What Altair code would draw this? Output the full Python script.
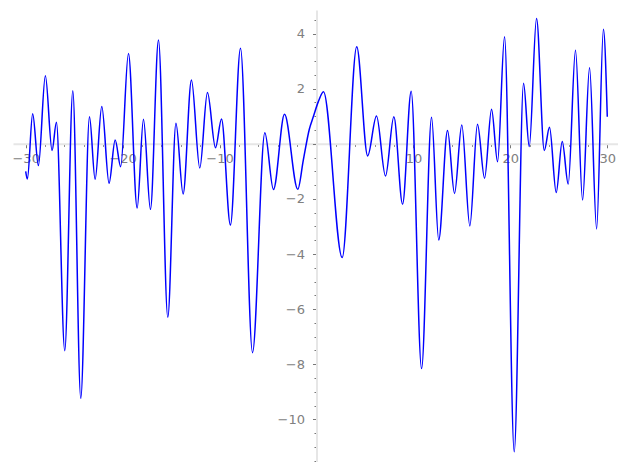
import altair as alt
import pandas as pd

# curve samples (extrema and a few shape points)
xs = [-30.0, -29.83, -29.28, -28.69, -27.97, -27.28, -26.83, -25.97, -25.14, -24.32,
      -23.42, -22.84, -22.15, -21.4, -20.77, -20.2, -19.4, -18.5, -17.85, -17.13,
      -16.3, -15.34, -14.5, -13.76, -12.9, -12.04, -11.25, -10.42, -9.8, -8.88,
      -7.84, -6.6, -5.33, -4.44, -3.3, -1.93, -1.36, -0.74, -0.33, 0.19,
      0.72, 2.65, 4.15, 5.28, 6.19, 7.12, 7.98, 8.88, 9.77, 10.84,
      11.87, 12.61, 13.52, 14.24, 14.99, 15.82, 16.61, 17.34, 18.06, 18.68,
      19.4, 20.4, 21.36, 21.95, 22.7, 23.5, 24.04, 24.73, 25.35, 25.97,
      26.72, 27.45, 28.17, 28.9, 29.6, 30.0]
ys = [-1.0, -1.28, 1.09, -0.79, 2.47, -0.24, 0.78, -7.51, 1.93, -9.24,
      0.98, -1.29, 1.35, -1.43, 0.14, -0.83, 3.28, -2.33, 0.89, -2.38,
      3.77, -6.3, 0.75, -1.82, 2.32, -0.88, 1.86, -0.14, 0.9, -2.95,
      3.47, -7.58, 0.40, -1.66, 1.07, -1.65, -0.59, 0.53, 0.98, 1.53,
      1.89, -4.13, 3.52, -0.44, 1.01, -1.17, 0.98, -2.19, 1.91, -8.16,
      0.96, -3.49, 0.48, -1.8, 0.68, -2.98, 0.71, -1.25, 1.25, -0.65,
      3.89, -11.18, 2.2, -0.1, 4.55, -0.24, 0.6, -1.77, 0.08, -1.46,
      3.4, -2.04, 2.76, -3.09, 4.16, 0.98]

x_ticks = [v for v in range(-30, 31, 2)]
y_ticks = [v / 2 for v in range(-23, 10)]

df = pd.DataFrame({"x": xs, "y": ys})

W, H = 605, 452
XMIN, XMAX = -31.31, 31.105
YMIN, YMAX = -11.55, 4.857
x0_px = (0 - XMIN) / (XMAX - XMIN) * W
y0_px = (YMAX - 0) / (YMAX - YMIN) * H

axis_common = dict(
    title=None,
    grid=False,
    format="~g",
    domainColor="#e6e6e6",
    domainWidth=2,
    tickColor="#777777",
    tickWidth=1,
    labelColor="#808080",
    labelFont="DejaVu Sans",
    labelFontSize=13,
    labelFlush=False,
    labelOverlap=False,
)

lab = "replace(format(datum.value, '~g'), /[-\u2212]/, '\u2212')"

x_axis = alt.Axis(
    values=x_ticks,
    orient="bottom",
    offset=-(H - y0_px),
    tickSize={"condition": {"test": "datum.value % 10 === 0", "value": 4}, "value": 2.5},
    labelExpr=f"(datum.value % 10 === 0 && datum.value !== 0) ? {lab} : ''",
    labelPadding=5,
    **axis_common,
)
y_axis = alt.Axis(
    values=y_ticks,
    orient="left",
    offset=-x0_px,
    tickSize={"condition": {"test": "datum.value % 2 === 0", "value": 4}, "value": 2.5},
    labelExpr=f"(datum.value % 2 === 0 && datum.value !== 0) ? {lab} : ''",
    labelPadding=8,
    **axis_common,
)

chart = alt.Chart(df).mark_line(
    color="#0000ff", strokeWidth=1.5, interpolate="monotone", clip=False
).encode(
    x=alt.X("x:Q", scale=alt.Scale(domain=[XMIN, XMAX], nice=False, zero=False), axis=x_axis),
    y=alt.Y("y:Q", scale=alt.Scale(domain=[YMIN, YMAX], nice=False, zero=False), axis=y_axis),
).properties(
    width=W,
    height=H,
    autosize=alt.AutoSizeParams(type="none"),
    padding={"left": 5, "top": 2, "right": 0, "bottom": 0},
).configure_view(stroke=None)

chart.save("out.html", embed_options={"renderer": "svg", "actions": False})
